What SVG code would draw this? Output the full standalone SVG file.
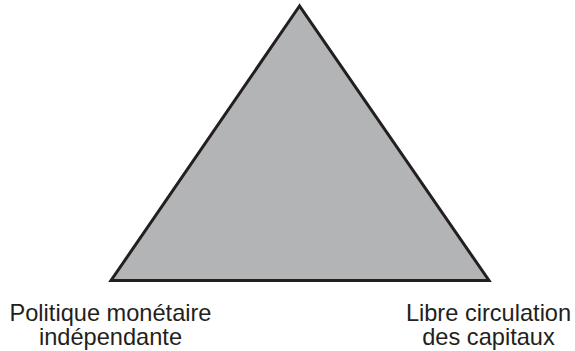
<svg xmlns="http://www.w3.org/2000/svg" width="575" height="351" viewBox="0 0 575 351">
<style>
.lbl{font-family:"Liberation Sans",Arial,sans-serif;font-size:23.6px;fill:#231f20;text-anchor:middle}
</style>
<rect width="575" height="351" fill="#ffffff"/>
<g id="triangle">
<polygon points="299.5,6 111,280.5 489,280.5" fill="#b3b4b6" stroke="#231f20" stroke-width="3" stroke-linejoin="miter"/>
</g>
<g id="label-left">
<text class="lbl" x="110.5" y="321">Politique monétaire</text>
<text class="lbl" x="110.5" y="345">indépendante</text>
</g>
<g id="label-right">
<text class="lbl" x="488.5" y="321">Libre circulation</text>
<text class="lbl" x="488.5" y="345">des capitaux</text>
</g>
</svg>
